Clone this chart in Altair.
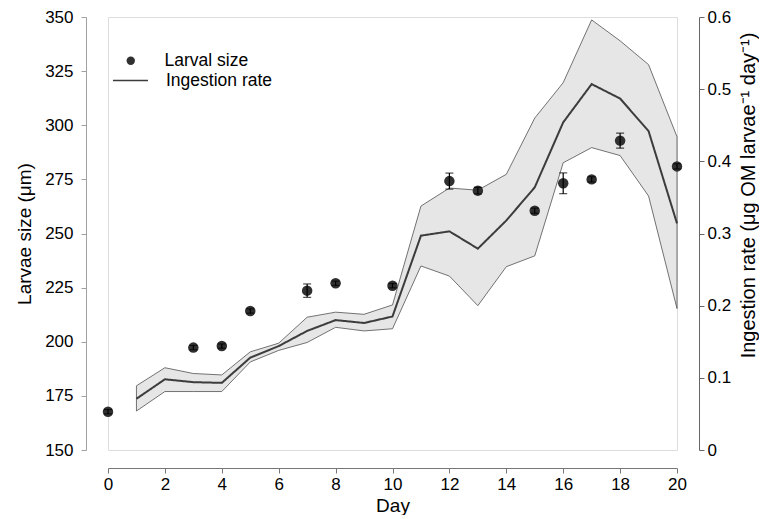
import altair as alt
import pandas as pd

# Larval size (left axis)
size_days = [0, 3, 4, 5, 7, 8, 10, 12, 13, 15, 16, 17, 18, 20]
size_mean = [167.7, 197.3, 198.0, 214.2, 223.6, 227.0, 225.9, 274.2, 269.8, 260.5, 273.2, 275.0, 292.9, 281.0]
size_err = [1.0, 1.0, 1.0, 1.0, 3.1, 1.0, 1.0, 3.7, 1.5, 1.2, 4.8, 1.2, 3.5, 1.2]

# Ingestion rate (right axis)
ing_days = [1, 2, 3, 4, 5, 6, 7, 8, 9, 10, 11, 12, 13, 14, 15, 16, 17, 18, 19, 20]
ing_mean = [0.071, 0.098, 0.094, 0.093, 0.128, 0.144, 0.165, 0.180, 0.176, 0.185, 0.297, 0.303, 0.279,
            0.318, 0.364, 0.454, 0.507, 0.487, 0.442, 0.314]
ing_upper = [0.089, 0.114, 0.106, 0.104, 0.136, 0.148, 0.184, 0.191, 0.188, 0.201, 0.338, 0.363, 0.360,
             0.382, 0.460, 0.509, 0.596, 0.567, 0.534, 0.434]
ing_lower = [0.054, 0.081, 0.081, 0.081, 0.122, 0.138, 0.149, 0.170, 0.165, 0.168, 0.255, 0.241, 0.200,
             0.254, 0.269, 0.398, 0.419, 0.408, 0.352, 0.196]

x_ticks = list(range(0, 21, 2))
left_ticks = [150, 175, 200, 225, 250, 275, 300, 325, 350]
right_ticks = [0, 0.1, 0.2, 0.3, 0.4, 0.5, 0.6]

size_df = pd.DataFrame({"day": size_days, "mean": size_mean, "err": size_err})
size_df["lo"] = size_df["mean"] - size_df["err"]
size_df["hi"] = size_df["mean"] + size_df["err"]
size_df["series"] = "Larval size"
ing_df = pd.DataFrame({"day": ing_days, "mean": ing_mean, "upper": ing_upper, "lower": ing_lower})
ing_df["series"] = "Ingestion rate"

FONT = "Liberation Sans"

x_enc = alt.X(
    "day:Q",
    scale=alt.Scale(domain=[0, 20], nice=False, zero=False),
    axis=alt.Axis(
        title="Day", values=x_ticks, format="d", offset=18, tickSize=5, labelFlush=False,
        domainColor="#777777", tickColor="#777777", labelColor="#000000",
        labelFontSize=17, labelPadding=3, titleFontSize=19, titleFontWeight="normal",
        titleColor="#000000", titlePadding=4, grid=False, labelFont=FONT, titleFont=FONT,
    ),
)

left_scale = alt.Scale(domain=[150, 350], nice=False, zero=False)
left_axis = alt.Axis(
    title="Larvae size (μm)", orient="left", values=left_ticks, format="d", offset=22,
    tickSize=5, labelFlush=False, domainColor="#a0a0a0", tickColor="#a0a0a0", labelColor="#000000",
    labelFontSize=17, labelPadding=8, titleFontSize=19, titleFontWeight="normal",
    titleColor="#000000", titlePadding=10, grid=False, labelFont=FONT, titleFont=FONT,
)

right_scale = alt.Scale(domain=[0, 0.6], nice=False, zero=False)
right_axis = alt.Axis(
    title="Ingestion rate (μg OM larvae⁻¹ day⁻¹)", orient="right", values=right_ticks,
    labelExpr="datum.value == 0 ? '0' : format(datum.value, '.1f')", offset=22,
    tickSize=5, labelFlush=False, domainColor="#666666", tickColor="#666666", labelColor="#000000",
    labelFontSize=20, labelPadding=3, titleFontSize=20, titleFontWeight="normal",
    titleColor="#000000", titlePadding=28, titleAngle=270, titleY=178, grid=False,
    labelFont=FONT, titleFont=FONT,
) if False else alt.Axis(
    title="Ingestion rate (μg OM larvae⁻¹ day⁻¹)", orient="right", values=right_ticks,
    labelExpr="datum.value == 0 ? '0' : format(datum.value, '.1f')", offset=22,
    tickSize=5, labelFlush=False, domainColor="#666666", tickColor="#666666", labelColor="#000000",
    labelFontSize=17, labelPadding=3, titleFontSize=20, titleFontWeight="normal",
    titleColor="#000000", titlePadding=28, titleAngle=270, titleY=178, grid=False,
    labelFont=FONT, titleFont=FONT,
)

band = alt.Chart(ing_df).mark_area(
    fill="#e6e6e6", stroke="#505050", strokeWidth=0.8
).encode(
    x=x_enc,
    y=alt.Y("upper:Q", scale=right_scale, axis=right_axis),
    y2="lower:Q",
)

line = alt.Chart(ing_df).mark_line(color="#3c3c3c", strokeWidth=2).encode(
    x=x_enc,
    y=alt.Y("mean:Q", scale=right_scale, axis=right_axis),
    strokeDash=alt.StrokeDash(
        "series:N",
        scale=alt.Scale(domain=["Ingestion rate"], range=[[1, 0]]),
        legend=alt.Legend(
            title=None, orient="none", legendX=4, legendY=45, symbolType="stroke",
            symbolSize=1225, symbolStrokeWidth=1.5, symbolStrokeColor="#3c3c3c",
            labelFontSize=17.5, labelFont=FONT, labelColor="#000000", labelOffset=17,
        ),
    ),
)

right_layer = alt.layer(band, line)

points = alt.Chart(size_df).mark_point(filled=True, size=110, color="#303030", opacity=1).encode(
    x=x_enc,
    y=alt.Y("mean:Q", scale=left_scale, axis=left_axis),
    shape=alt.Shape(
        "series:N",
        scale=alt.Scale(domain=["Larval size"], range=["circle"]),
        legend=alt.Legend(
            title=None, orient="none", legendX=14, legendY=35, symbolSize=70,
            symbolFillColor="#303030", symbolStrokeWidth=0,
            labelFontSize=17.5, labelFont=FONT, labelColor="#000000", labelOffset=25,
        ),
    ),
)

err_rule = alt.Chart(size_df).mark_rule(color="#000000", strokeWidth=1.2).encode(
    x=x_enc,
    y=alt.Y("lo:Q", scale=left_scale, axis=left_axis),
    y2="hi:Q",
)
cap_lo = alt.Chart(size_df).mark_tick(color="#000000", orient="horizontal", size=8, thickness=1.2).encode(
    x=x_enc,
    y=alt.Y("lo:Q", scale=left_scale, axis=left_axis),
)
cap_hi = alt.Chart(size_df).mark_tick(color="#000000", orient="horizontal", size=8, thickness=1.2).encode(
    x=x_enc,
    y=alt.Y("hi:Q", scale=left_scale, axis=left_axis),
)

left_layer = alt.layer(points, err_rule, cap_lo, cap_hi)

chart = alt.layer(right_layer, left_layer).resolve_scale(
    y="independent", shape="independent", strokeDash="independent"
).properties(
    width=569, height=433,
    padding={"left": 7, "top": 0, "right": 0, "bottom": 0},
).configure_view(stroke=None).configure(background="white")

chart.save("out.html", embed_options={"renderer": "svg", "actions": False})
